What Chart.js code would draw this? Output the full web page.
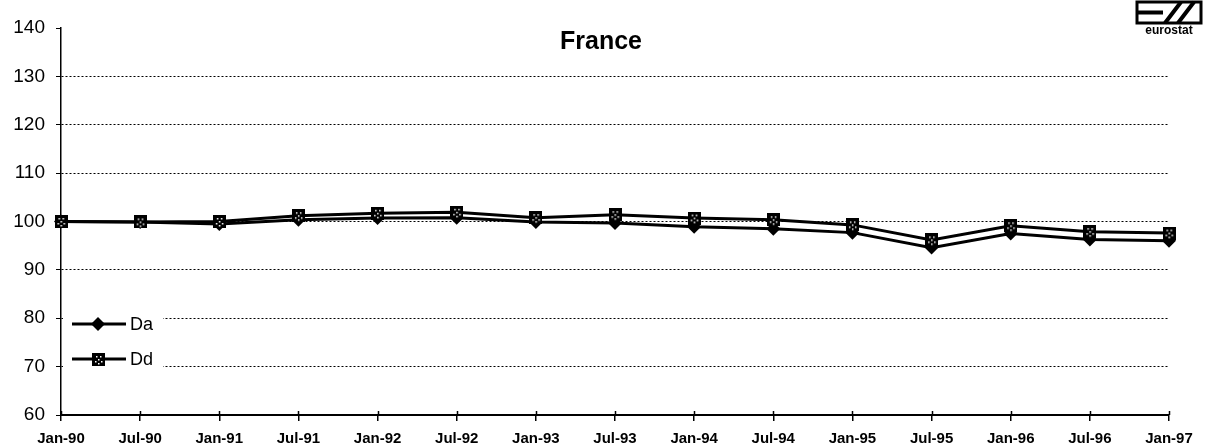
<!DOCTYPE html>
<html>
<head>
<meta charset="utf-8">
<script src="https://cdn.jsdelivr.net/npm/chart.js@4"></script>
<style>
  html, body { margin: 0; padding: 0; background: #fff; }
  canvas { display: block; }
</style>
</head>
<body>
<canvas id="chart" width="1212" height="447"></canvas>
<script>
const labels = ["Jan-90", "Jul-90", "Jan-91", "Jul-91", "Jan-92", "Jul-92", "Jan-93", "Jul-93",
                "Jan-94", "Jul-94", "Jan-95", "Jul-95", "Jan-96", "Jul-96", "Jan-97"];
const da = [100, 99.9, 99.5, 100.35, 100.7, 100.8, 99.9, 99.7, 98.9, 98.5, 97.7, 94.6, 97.5, 96.3, 96.0];
const dd = [100, 99.9, 100.0, 101.2, 101.7, 101.9, 100.8, 101.4, 100.7, 100.35, 99.3, 96.2, 99.1, 97.9, 97.6];
const seriesNames = ["Da", "Dd"];
const chartTitle = "France";

// square marker with a few white specks, like the printed original
function speckledSquare(size) {
  const c = document.createElement("canvas");
  c.width = size; c.height = size;
  const g = c.getContext("2d");
  g.fillStyle = "#000";
  g.fillRect(0, 0, size, size);
  g.fillStyle = "#fff";
  const dots = [[4, 3], [8, 3], [6, 6], [3, 8], [9, 8], [6, 10]];
  dots.forEach(([x, y]) => g.fillRect(x, y, 1.5, 1.5));
  return c;
}
const squareMark = speckledSquare(13);

const decor = {
  id: "decor",
  afterDraw(chart) {
    const ctx = chart.ctx;
    ctx.save();
    // title
    ctx.fillStyle = "#000";
    ctx.font = "bold 25px 'Liberation Sans', Arial, sans-serif";
    ctx.textAlign = "center";
    ctx.textBaseline = "middle";
    ctx.fillText(chartTitle, 601, 42);

    // x ticks poke a little above the axis too
    const xs = chart.scales.x;
    ctx.strokeStyle = "#000";
    ctx.lineWidth = 1.5;
    ctx.beginPath();
    labels.forEach((l, i) => {
      const px = Math.round(xs.getPixelForValue(i)) + 0.5;
      ctx.moveTo(px, xs.top - 4);
      ctx.lineTo(px, xs.top);
    });
    ctx.stroke();

    // legend (white box over the lower grid lines)
    ctx.fillStyle = "#fff";
    ctx.fillRect(63, 305, 100, 70);
    const rows = [324, 359];
    chart.data.datasets.forEach((ds, i) => {
      const y = rows[i];
      ctx.strokeStyle = "#000";
      ctx.lineWidth = 3;
      ctx.beginPath();
      ctx.moveTo(72, y);
      ctx.lineTo(126, y);
      ctx.stroke();
      if (i === 0) {
        ctx.fillStyle = "#000";
        ctx.beginPath();
        ctx.moveTo(98, y - 7); ctx.lineTo(105, y); ctx.lineTo(98, y + 7); ctx.lineTo(91, y);
        ctx.closePath();
        ctx.fill();
      } else {
        ctx.drawImage(squareMark, 92, y - 6);
      }
      ctx.fillStyle = "#000";
      ctx.font = "18px 'Liberation Sans', Arial, sans-serif";
      ctx.textAlign = "left";
      ctx.fillText(ds.label, 130, y + 1);
    });

    // eurostat logo
    ctx.strokeStyle = "#000";
    ctx.lineWidth = 3;
    ctx.strokeRect(1137, 2, 64, 21);
    ctx.lineWidth = 4;
    ctx.beginPath();
    ctx.moveTo(1137, 12.5); ctx.lineTo(1163, 12.5);
    ctx.moveTo(1165, 23); ctx.lineTo(1181, 2);
    ctx.moveTo(1178, 23); ctx.lineTo(1194, 2);
    ctx.stroke();
    ctx.fillStyle = "#000";
    ctx.font = "bold 12px 'Liberation Sans', Arial, sans-serif";
    ctx.textAlign = "center";
    ctx.fillText("eurostat", 1169, 31);
    ctx.restore();
  }
};

new Chart(document.getElementById("chart"), {
  type: "line",
  data: {
    labels: labels,
    datasets: [
      {
        label: seriesNames[0],
        data: da,
        borderColor: "#000",
        backgroundColor: "#000",
        borderWidth: 3,
        pointStyle: "rectRot",
        pointRadius: 7,
        pointBorderWidth: 0,
        tension: 0,
        order: 2
      },
      {
        label: seriesNames[1],
        data: dd,
        borderColor: "#000",
        backgroundColor: "#000",
        borderWidth: 3,
        pointStyle: squareMark,
        tension: 0,
        order: 1
      }
    ]
  },
  options: {
    responsive: false,
    animation: false,
    layout: { padding: { left: 0, right: 43, top: 28, bottom: 0 } },
    plugins: {
      legend: { display: false },
      tooltip: { enabled: false }
    },
    scales: {
      x: {
        offset: false,
        afterFit: (s) => { s.height = 32; },
        grid: { drawOnChartArea: false, color: "#000", tickLength: 6, lineWidth: 1.5 },
        border: { color: "#000", width: 2 },
        ticks: {
          color: "#000",
          padding: 9,
          maxRotation: 0,
          autoSkip: false,
          font: { family: "'Liberation Sans', Arial, sans-serif", size: 15, weight: "bold" }
        }
      },
      y: {
        min: 60,
        max: 140,
        afterFit: (s) => { s.width = 61; },
        grid: {
          color: (c) => (c.tick && (c.tick.value === 60 || c.tick.value === 140)) ? "rgba(0,0,0,0)" : "#000",
          tickColor: "#000",
          tickLength: 5,
          lineWidth: 1
        },
        border: { color: "#000", width: 1.5, dash: [2, 2] },
        ticks: {
          stepSize: 10,
          color: "#000",
          padding: 11,
          font: { family: "'Liberation Sans', Arial, sans-serif", size: 19 }
        }
      }
    }
  },
  plugins: [decor]
});
</script>
</body>
</html>
